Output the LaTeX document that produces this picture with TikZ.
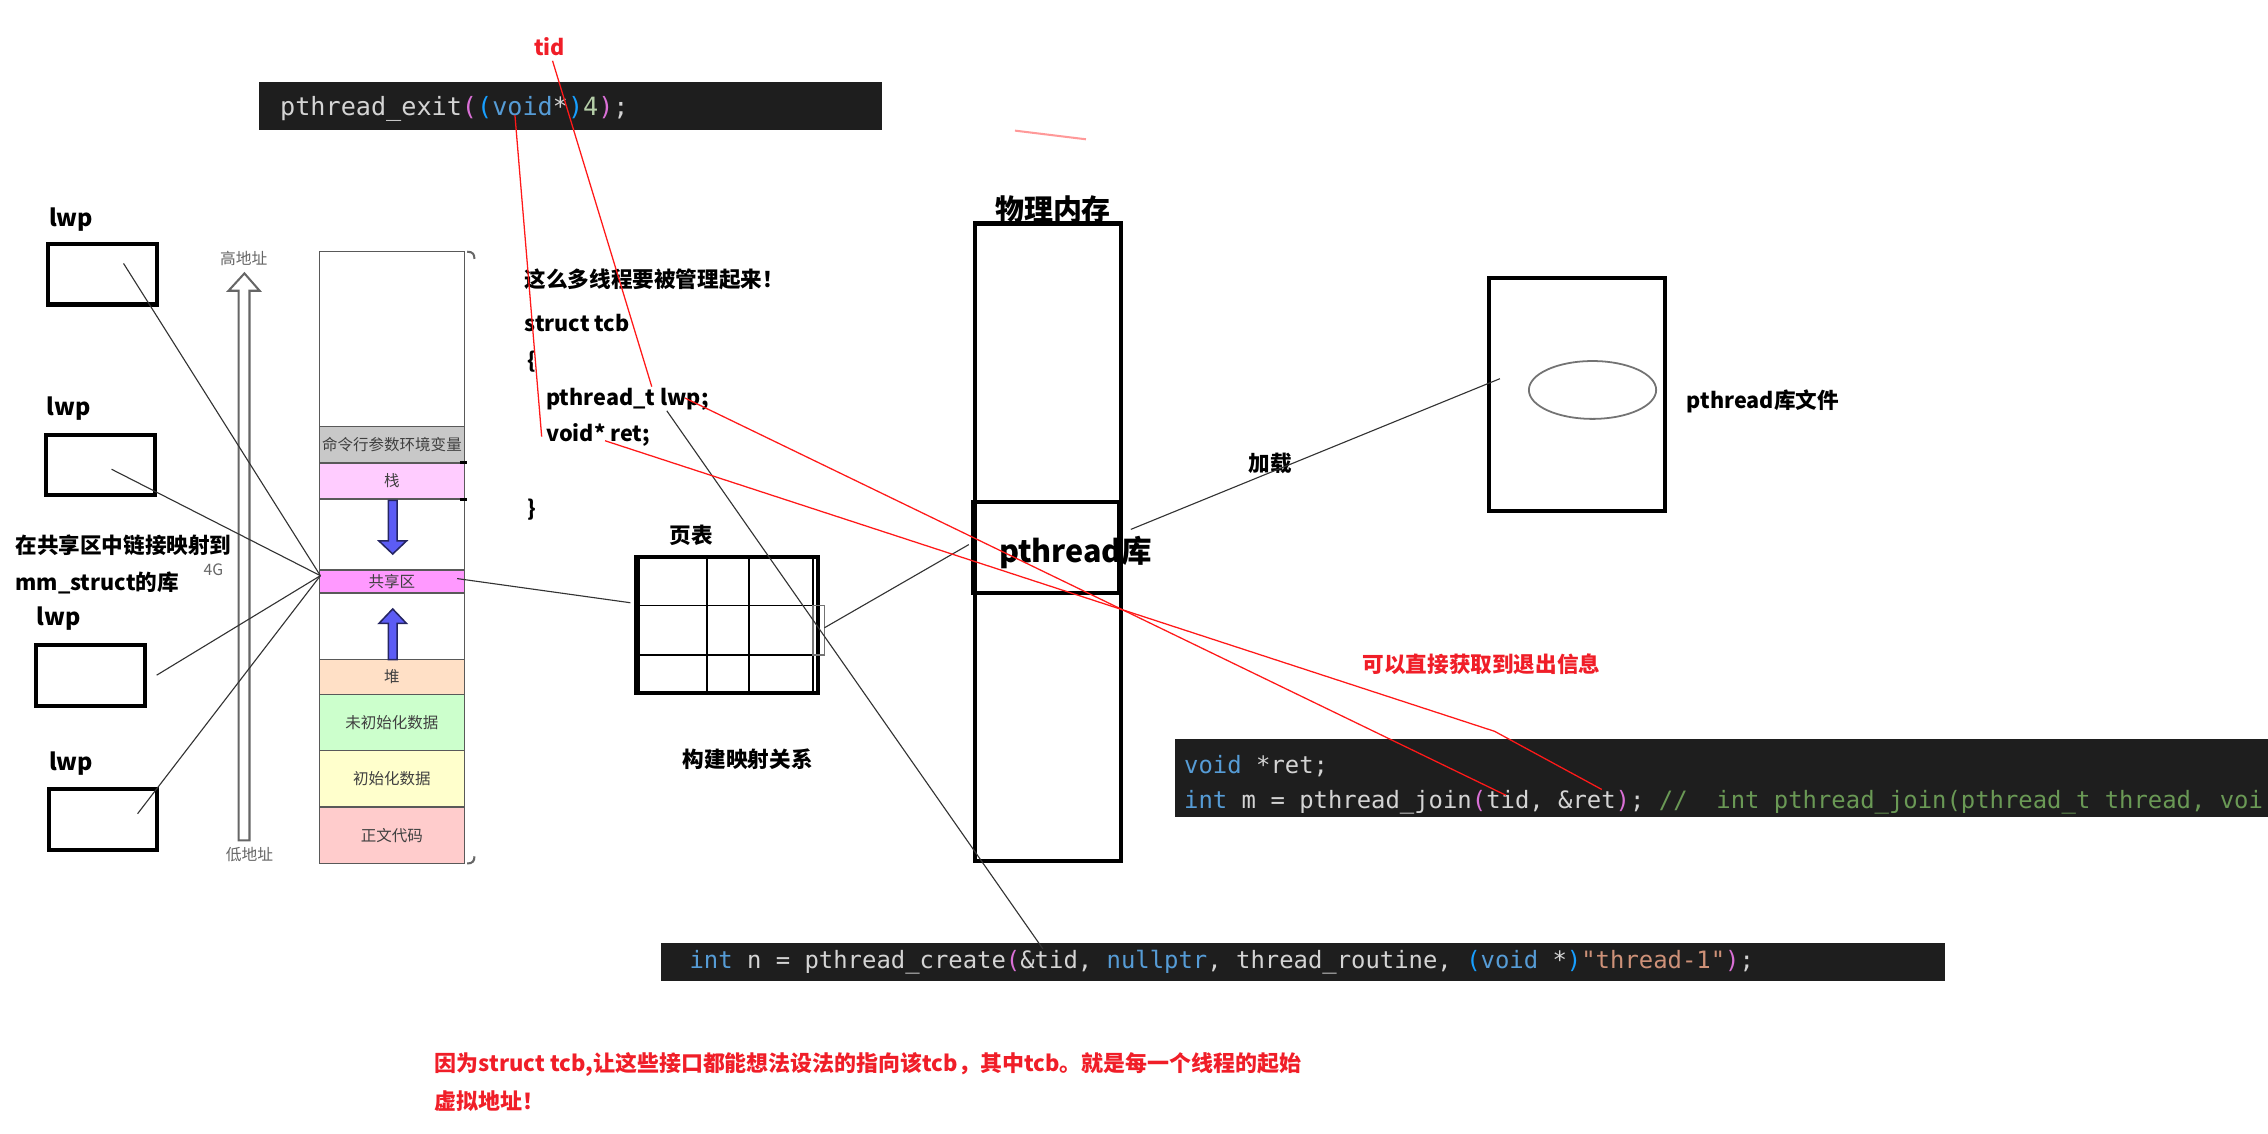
\documentclass[tikz,border=0pt]{standalone}
\usepackage{fontspec}
\setmonofont{DejaVu Sans Mono}
\newfontfamily\cjk{Noto Sans CJK SC}
\usetikzlibrary{calc, shapes.geometric}

\definecolor{codebg}{HTML}{1E1E1E}
\definecolor{codetxt}{HTML}{D4D4D4}
\definecolor{codekw}{HTML}{569CD6}
\definecolor{codepa}{HTML}{DA70D6}
\definecolor{codepb}{HTML}{179FFF}
\definecolor{codenum}{HTML}{B5CEA8}
\definecolor{codestr}{HTML}{CE9178}
\definecolor{codecom}{HTML}{6A9955}
\definecolor{tipred}{HTML}{F01E28}
\definecolor{segcmd}{HTML}{C8C8C8}
\definecolor{segstack}{HTML}{FFCCFF}
\definecolor{segshm}{HTML}{FF99FF}
\definecolor{segheap}{HTML}{FFE0C6}
\definecolor{segbss}{HTML}{CCFFCC}
\definecolor{segdata}{HTML}{FFFFCC}
\definecolor{segtext}{HTML}{FFCCCC}
\definecolor{arrowblue}{HTML}{5C5CF5}

\newcommand\ckw[1]{\textcolor{codekw}{#1}}
\newcommand\cpa[1]{\textcolor{codepa}{#1}}
\newcommand\cpb[1]{\textcolor{codepb}{#1}}
\newcommand\cnum[1]{\textcolor{codenum}{#1}}
\newcommand\cstr[1]{\textcolor{codestr}{#1}}
\newcommand\ccom[1]{\textcolor{codecom}{#1}}

\tikzset{
    lbl/.style={font=\cjk\bfseries\fontsize{4.25}{5}\selectfont, inner sep=0pt},
    redlbl/.style={lbl, text=tipred},
    seglbl/.style={font=\cjk\fontsize{3.05}{3.5}\selectfont, text=black!75, inner sep=0pt},
    addrlbl/.style={font=\cjk\fontsize{3.1}{3.5}\selectfont, text=black!60, inner sep=0pt},
    code/.style={font=\ttfamily\fontsize{4.7}{5.5}\selectfont, text=codetxt, inner sep=0pt, anchor=west},
    heavy/.style={draw, line width=0.8pt, inner sep=0pt},
    lwpbox/.style={heavy, minimum width=7.5mm, minimum height=4.2mm},
    link/.style={line width=0.22pt, black!80},
    redlink/.style={line width=0.25pt, red!90},
    segline/.style={draw=black!65, line width=0.3pt},
    bluearrow/.style={fill=arrowblue, draw=arrowblue!40!black, line width=0.3pt},
}

\begin{document}
\begin{tikzpicture}[x=0.1mm, y=-0.1mm]
\useasboundingbox (0,0) rectangle (1568,784);

% code: pthread_exit
\fill[codebg] (179,57) rectangle (610,90);
\node[code, font=\ttfamily\fontsize{4.95}{5.5}\selectfont] (exitcode) at (193,75)
    {pthread\_exit\cpa{(}\cpb{(}\ckw{void}*\cpb{)}\cnum{4}\cpa{)};};
\node[redlbl] (tid) at (380,32) {tid};
\draw[red!40, line width=0.4pt] (701.7,90.3) -- (750.8,96.3);

% lwp
\foreach \n/\x/\y/\tx/\ty in {a/71/189.5/49.2/151.6, b/69.4/321.5/47.5/282.5, c/62.6/466.8/40.5/427.8, d/71.2/566.4/49.2/528.2} {
    \node[lwpbox] (lwp\n) at (\x,\y) {};
    \node[lbl, font=\cjk\bfseries\fontsize{4.6}{5}\selectfont] (lwptxt\n) at (\tx,\ty) {lwp};
}
\node[lbl, anchor=west] (linknote) at (10,377) {在共享区中链接映射到};
\node[lbl, anchor=west] (linknote2) at (10,403) {mm\_struct的库};

% address arrow
\draw[fill=white, draw=black!60, line width=0.4pt] (165,581) -- (172.5,581) -- (172.5,201) -- (179.5,201) -- (169,189) -- (158,201) -- (165,201) -- cycle;
\node[addrlbl] (hiaddr) at (168.5,179) {高地址};
\node[addrlbl] (loaddr) at (172.5,591) {低地址};
\node[addrlbl] (fourg) at (147.5,394) {4G};

% memory
\draw[segline, fill=white] (221,174) rectangle (321,597);
\foreach \ya/\yb/\col/\txt/\nm in {295/320/segcmd/命令行参数环境变量/cmd, 320/345/segstack/栈/stack, 394/410/segshm/共享区/shm, 456/480/segheap/堆/heap, 480/519/segbss/未初始化数据/bss, 519/558/segdata/初始化数据/data, 558/597/segtext/正文代码/text} {
    \draw[segline, fill=\col] (221,\ya) rectangle (321,\yb);
    \node[seglbl] (seg\nm) at (271,{(\ya+\yb)/2}) {\txt};
}
\draw[bluearrow] (268.5,346) -- (274.5,346) -- (274.5,374) -- (281,374) -- (271.5,383) -- (262,374) -- (268.5,374) -- cycle;
\draw[bluearrow] (268.5,456) -- (274.5,456) -- (274.5,431) -- (281,431) -- (271.5,421) -- (262,431) -- (268.5,431) -- cycle;
\draw[black!60, line width=0.4pt] (323,174) .. controls (327,174) and (328,176) .. (328,179);
\draw[black!60, line width=0.4pt] (323,597) .. controls (327,597) and (328,595) .. (328,592);
\draw[line width=0.6pt] (318,320) -- (323,320);
\draw[line width=0.6pt] (318,345) -- (323,345);

% tcb
\node[lbl, anchor=west] (tcbnote) at (362,193) {这么多线程要被管理起来！};
\node[lbl, anchor=west] (tcbhead) at (362,223) {struct tcb};
\node[lbl, anchor=west] (tcbopen) at (364,250) {\{};
\node[lbl, anchor=west] (tcblwp) at (377,276) {pthread\_t lwp;};
\node[lbl, anchor=west] (tcbret) at (377,301) {void* ret;};
\node[lbl, anchor=west] (tcbclose) at (364,352) {\}};

% page table
\node[lbl] (pttitle) at (478,370) {页表};
\node[heavy, minimum width=12.6mm, minimum height=9.4mm] (ptab) at (502.6,431.8) {};
\foreach \gx in {442,489,518,562} {
    \draw[line width=0.35pt] (\gx,386) -- (\gx,477.5);
}
\foreach \gy in {418.6,452.7} {
    \draw[line width=0.35pt] (441,\gy) -- (570,\gy);
}
\draw[black!55, line width=0.35pt] (562,418.6) rectangle (570,452.7);
\node[lbl] (ptnote) at (517,525) {构建映射关系};

% physical memory
\node[lbl, font=\cjk\bfseries\fontsize{5.7}{6}\selectfont] (physttl) at (728,144.5) {物理内存};
\node[heavy, minimum width=10.1mm, minimum height=44.1mm] (phys) at (724.5,375) {};
\node[heavy, minimum width=10.06mm, minimum height=6.3mm] (libbox) at (723.3,378.6) {};
\node[lbl, anchor=west, font=\cjk\bfseries\fontsize{6}{7}\selectfont] (libtxt) at (690,382) {pthread库};

% library file
\node[heavy, minimum width=12.2mm, minimum height=16.1mm] (libfile) at (1090.3,272.5) {};
\node[draw=black!55, ellipse, line width=0.35pt, minimum width=8.8mm, minimum height=4mm, inner sep=0pt] (libimg) at (1101,269.6) {};
\node[lbl, anchor=west] (libfiletxt) at (1165.6,277.7) {pthread库文件};
\node[lbl] (loadtxt) at (878.4,320.5) {加载};

% code: pthread_join
\fill[codebg] (812,511) rectangle (1568,565);
\begin{scope}
\clip (812,511) rectangle (1568,565);
\node[code] (retdecl) at (818,529.5) {\ckw{void} *ret;};
\node[code] (joincode) at (818,554.5)
    {\ckw{int} m = pthread\_join\cpa{(}tid, \&ret\cpa{)}; \ccom{//\ \ int pthread\_join(pthread\_t thread, voi}};
\end{scope}
\node[redlbl, anchor=west] (exitnote) at (941.4,459) {可以直接获取到退出信息};

% code: pthread_create
\fill[codebg] (457,652) rectangle (1345,678);
\node[code] (createcode) at (476,665)
    {\ckw{int} n = pthread\_create\cpa{(}\&tid, \ckw{nullptr}, thread\_routine, \cpb{(}\ckw{void} *\cpb{)}\cstr{"thread-1"}\cpa{)};};

\node[redlbl, anchor=west, font=\cjk\bfseries\fontsize{4.32}{5}\selectfont] (whynote) at (300,736) {因为struct tcb,让这些接口都能想法设法的指向该tcb，其中tcb。就是每一个线程的起始};
\node[redlbl, anchor=west, font=\cjk\bfseries\fontsize{4.32}{5}\selectfont] (whynote2) at (300,761) {虚拟地址！};

% connectors
\coordinate (shmin) at (221.5,398);
\coordinate (lwpa-in) at (85.4,182.1);
\coordinate (lwpb-in) at (77.1,324.4);
\coordinate (lwpc-in) at (108.3,466.8);
\coordinate (lwpd-in) at (95.1,562.6);
\foreach \n in {a,b,c,d} {
    \draw[link] (lwp\n-in) -- (shmin);
}
\coordinate (shmout) at (316,400);
\coordinate (ptin) at (435.8,416.7);
\coordinate (ptout) at (570,434);
\coordinate (libin) at (669.8,376.5);
\coordinate (libout) at (781.8,366);
\coordinate (filein) at (1037,261.8);
\draw[link] (shmout) -- (ptin);
\draw[link] (ptout) -- (libin);
\draw[link] (libout) -- (filein);
\coordinate (lwpfoot) at (461,284);
\coordinate (createtid) at (721,656);
\draw[link] (lwpfoot) -- (createtid);

\coordinate (tidfoot) at (382,42);
\coordinate (lwphead) at (450.6,267.3);
\coordinate (voidmid) at (356,79.5);
\coordinate (retleft) at (374.5,301.9);
\coordinate (lwptail) at (473.6,275.2);
\coordinate (jointid) at (1041.1,549.8);
\coordinate (retfoot) at (418.3,304.7);
\coordinate (retbend) at (1033.3,505.6);
\coordinate (joinret) at (1107.4,545.8);
\draw[redlink] (tidfoot) -- (lwphead);
\draw[redlink] (voidmid) -- (retleft);
\draw[redlink] (lwptail) -- (jointid);
\draw[redlink] (retfoot) -- (retbend) -- (joinret);
\end{tikzpicture}
\end{document}
